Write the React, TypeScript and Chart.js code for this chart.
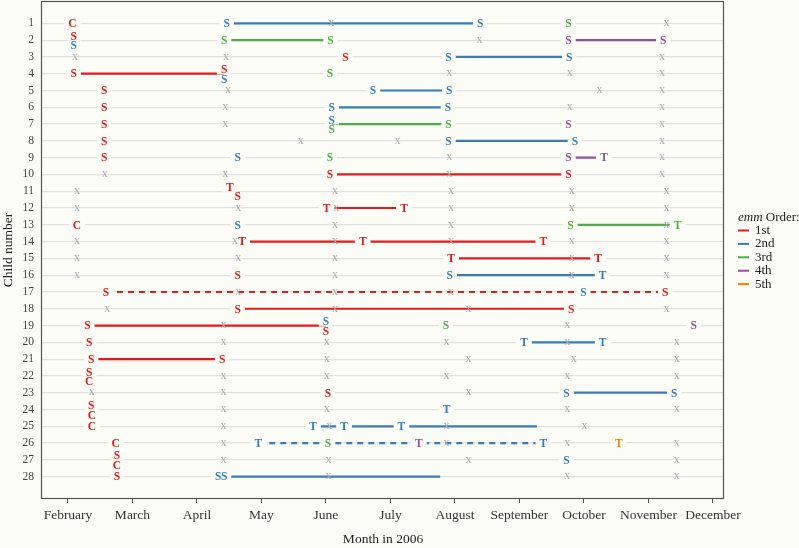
import React, { useEffect, useRef } from 'react';
import { Chart, registerables } from 'chart.js';

Chart.register(...registerables);

// ---------- data ----------
const CHILD_NUMBERS = [1, 2, 3, 4, 5, 6, 7, 8, 9, 10, 11, 12, 13, 14, 15, 16, 17, 18, 19, 20, 21, 22, 23, 24, 25, 26, 27, 28];
const MONTH_VALUES = [2, 3, 4, 5, 6, 7, 8, 9, 10, 11, 12];
const MONTH_NAMES = ['February', 'March', 'April', 'May', 'June', 'July', 'August', 'September', 'October', 'November', 'December'];
const ORDER_LABELS = ['1st', '2nd', '3rd', '4th', '5th'];
const ORDER_COLORS = ['#E41A1C', '#377EB8', '#4DAF4A', '#984EA3', '#FF7F00'];
const NEGATIVE_COLOR = '#ababab';
const BG = '#fdfdf7';

const U = -0.25; // stacked label above
const D = 0.32; // stacked label below

// [child, month, letter, emm order, vertical nudge (rows)]
const POSITIVE_SAMPLES: [number, number, string, number, number][] = [
  [1, 2.07, 'C', 1, 0], [1, 4.46, 'S', 2, 0], [1, 8.39, 'S', 2, 0], [1, 9.76, 'S', 3, 0],
  [2, 2.09, 'S', 1, U], [2, 2.09, 'S', 2, D], [2, 4.42, 'S', 3, 0], [2, 6.07, 'S', 3, 0], [2, 9.76, 'S', 4, 0], [2, 11.23, 'S', 4, 0],
  [3, 6.30, 'S', 1, 0], [3, 7.90, 'S', 2, 0], [3, 9.77, 'S', 2, 0],
  [4, 2.09, 'S', 1, 0], [4, 4.42, 'S', 1, U], [4, 4.42, 'S', 2, D], [4, 6.06, 'S', 3, 0],
  [5, 2.56, 'S', 1, 0], [5, 6.73, 'S', 2, 0], [5, 7.91, 'S', 2, 0],
  [6, 2.56, 'S', 1, 0], [6, 6.09, 'S', 2, 0], [6, 7.89, 'S', 2, 0],
  [7, 2.56, 'S', 1, 0], [7, 6.09, 'S', 2, U], [7, 6.09, 'S', 3, D], [7, 7.90, 'S', 3, 0], [7, 9.76, 'S', 4, 0],
  [8, 2.56, 'S', 1, 0], [8, 7.90, 'S', 2, 0], [8, 9.86, 'S', 2, 0],
  [9, 2.56, 'S', 1, 0], [9, 4.63, 'S', 2, 0], [9, 6.06, 'S', 3, 0], [9, 9.76, 'S', 4, 0], [9, 10.31, 'T', 4, 0],
  [10, 6.06, 'S', 1, 0], [10, 9.76, 'S', 1, 0],
  [11, 4.51, 'T', 1, U], [11, 4.63, 'S', 1, D],
  [12, 6.01, 'T', 1, 0], [12, 7.21, 'T', 1, 0],
  [13, 2.14, 'C', 1, 0], [13, 4.63, 'S', 2, 0], [13, 9.79, 'S', 3, 0], [13, 11.45, 'T', 3, 0],
  [14, 4.70, 'T', 1, 0], [14, 6.57, 'T', 1, 0], [14, 9.37, 'T', 1, 0],
  [15, 7.94, 'T', 1, 0], [15, 10.22, 'T', 1, 0],
  [16, 4.63, 'S', 1, 0], [16, 7.92, 'S', 2, 0], [16, 10.29, 'T', 2, 0],
  [17, 2.59, 'S', 1, 0], [17, 9.99, 'S', 2, 0], [17, 11.26, 'S', 1, 0],
  [18, 4.63, 'S', 1, 0], [18, 9.80, 'S', 1, 0],
  [19, 2.30, 'S', 1, 0], [19, 6.00, 'S', 2, U], [19, 6.00, 'S', 1, D], [19, 7.86, 'S', 3, 0], [19, 11.70, 'S', 4, 0],
  [20, 2.33, 'S', 1, 0], [20, 9.07, 'T', 2, 0], [20, 10.29, 'T', 2, 0],
  [21, 2.36, 'S', 1, 0], [21, 4.39, 'S', 1, 0],
  [22, 2.33, 'S', 1, U], [22, 2.33, 'C', 1, D],
  [23, 6.03, 'S', 1, 0], [23, 9.73, 'S', 2, 0], [23, 11.40, 'S', 2, 0],
  [24, 2.36, 'S', 1, U], [24, 2.37, 'C', 1, D], [24, 7.87, 'T', 2, 0],
  [25, 2.37, 'C', 1, 0], [25, 5.80, 'T', 2, 0], [25, 6.28, 'T', 2, 0], [25, 7.17, 'T', 2, 0],
  [26, 2.74, 'C', 1, 0], [26, 4.95, 'T', 2, 0], [26, 6.03, 'S', 3, 0], [26, 7.44, 'T', 4, 0], [26, 9.37, 'T', 2, 0], [26, 10.54, 'T', 5, 0],
  [27, 2.76, 'S', 1, U], [27, 2.76, 'C', 1, D], [27, 9.73, 'S', 2, 0],
  [28, 2.76, 'S', 1, 0], [28, 4.33, 'S', 2, 0], [28, 4.42, 'S', 2, 0],
];

// [child, month] negative visits
const NEGATIVE_SAMPLES: [number, number][] = [
  [1, 6.08], [1, 11.28],
  [2, 8.38],
  [3, 2.11], [3, 4.45], [3, 11.21],
  [4, 7.91], [4, 9.78], [4, 11.21],
  [5, 4.48], [5, 10.24], [5, 11.21],
  [6, 4.44], [6, 9.78], [6, 11.21],
  [7, 4.44], [7, 11.21],
  [8, 5.61], [8, 7.11], [8, 11.21],
  [9, 7.91], [9, 11.21],
  [10, 2.57], [10, 4.44], [10, 7.91], [10, 11.21],
  [11, 2.14], [11, 6.14], [11, 7.94], [11, 9.81], [11, 11.28],
  [12, 2.14], [12, 4.64], [12, 6.16], [12, 7.94], [12, 9.81], [12, 11.28],
  [13, 6.14], [13, 7.94], [13, 11.28],
  [14, 2.14], [14, 4.59], [14, 6.14], [14, 7.94], [14, 9.81], [14, 11.28],
  [15, 2.14], [15, 4.64], [15, 6.14], [15, 9.81], [15, 11.28],
  [16, 2.14], [16, 6.14], [16, 9.81], [16, 11.28],
  [17, 4.64], [17, 6.14], [17, 7.94],
  [18, 2.61], [18, 6.14], [18, 8.21], [18, 11.28],
  [19, 4.41], [19, 9.74],
  [20, 4.41], [20, 6.01], [20, 7.87], [20, 9.74], [20, 11.44],
  [21, 6.01], [21, 8.21], [21, 9.84], [21, 11.44],
  [22, 4.41], [22, 6.01], [22, 7.87], [22, 9.74], [22, 11.44],
  [23, 2.37], [23, 4.41], [23, 8.21],
  [24, 4.41], [24, 6.01], [24, 9.74], [24, 11.44],
  [25, 4.41], [25, 6.05], [25, 7.87], [25, 10.01],
  [26, 4.41], [26, 7.87], [26, 9.74], [26, 11.44],
  [27, 4.41], [27, 6.04], [27, 8.21], [27, 11.44],
  [28, 6.04], [28, 9.74], [28, 11.44],
];

// [child, start month, end month, emm order, dashed]
const CARRIAGE_PERIODS: [number, number, number, number, number][] = [
  [1, 4.46, 8.39, 2, 0],
  [2, 4.42, 6.07, 3, 0], [2, 9.76, 11.23, 4, 0],
  [3, 7.90, 9.77, 2, 0],
  [4, 2.09, 4.42, 1, 0],
  [5, 6.73, 7.91, 2, 0],
  [6, 6.09, 7.89, 2, 0],
  [7, 6.09, 7.90, 3, 0],
  [8, 7.90, 9.86, 2, 0],
  [9, 9.76, 10.31, 4, 0],
  [10, 6.06, 9.76, 1, 0],
  [12, 6.01, 7.21, 1, 0],
  [13, 9.79, 11.45, 3, 0],
  [14, 4.70, 9.37, 1, 0],
  [15, 7.94, 10.22, 1, 0],
  [16, 7.92, 10.29, 2, 0],
  [17, 2.59, 11.26, 1, 1],
  [18, 4.63, 9.80, 1, 0],
  [19, 2.30, 6.00, 1, 0],
  [20, 9.07, 10.29, 2, 0],
  [21, 2.36, 4.39, 1, 0],
  [23, 9.73, 11.40, 2, 0],
  [25, 5.80, 9.27, 2, 0],
  [26, 4.95, 9.37, 2, 1],
  [28, 4.42, 7.77, 2, 0],
];

const FONT = 'Liberation Serif';
const LETTER_SIZE = 11.5;
const NEG_SIZE = 12;

const markerPlugin = {
  id: 'textMarkers',
  afterDatasetsDraw(chart: any) {
    const ctx = chart.ctx as CanvasRenderingContext2D;
    const pos: any[] = [];
    const neg: any[] = [];
    chart.data.datasets.forEach((ds: any, i: number) => {
      if (!ds.markerKind) return;
      const meta = chart.getDatasetMeta(i);
      meta.data.forEach((el: any, j: number) => {
        const item = { x: el.x, y: el.y, text: ds.markerText[j], color: ds.markerColor[j] };
        if (ds.markerKind === 'pos') pos.push(item); else neg.push(item);
      });
    });
    ctx.save();
    ctx.textAlign = 'center';
    ctx.textBaseline = 'alphabetic';
    ctx.font = `bold ${LETTER_SIZE}px "${FONT}"`;
    pos.forEach((it) => {
      const w = ctx.measureText(it.text).width;
      ctx.fillStyle = BG;
      ctx.fillRect(it.x - w / 2 - 4, it.y - 4.5, w + 8, 9);
    });
    ctx.font = `${NEG_SIZE}px "${FONT}"`;
    neg.forEach((it) => {
      ctx.fillStyle = it.color;
      ctx.fillText(it.text, it.x, it.y + 0.23 * NEG_SIZE);
    });
    ctx.font = `bold ${LETTER_SIZE}px "${FONT}"`;
    pos.forEach((it) => {
      ctx.fillStyle = it.color;
      ctx.fillText(it.text, it.x, it.y + 0.33 * LETTER_SIZE);
    });
    ctx.restore();
  },
};

const framePlugin = {
  id: 'frameAndLegend',
  beforeDraw(chart: any) {
    const ctx = chart.ctx as CanvasRenderingContext2D;
    ctx.save();
    ctx.fillStyle = BG;
    ctx.fillRect(0, 0, chart.width, chart.height);
    ctx.restore();
  },
  afterDraw(chart: any) {
    const ctx = chart.ctx as CanvasRenderingContext2D;
    const a = chart.chartArea;
    ctx.save();
    ctx.strokeStyle = '#555555';
    ctx.lineWidth = 1.2;
    ctx.strokeRect(Math.round(a.left) - 0.5, Math.round(a.top) + 0.5, Math.round(a.right) - Math.round(a.left), Math.round(a.bottom) - Math.round(a.top) - 1);

    // legend
    const lx = a.right + 14;
    const ly = 218;
    ctx.textBaseline = 'middle';
    ctx.textAlign = 'left';
    ctx.fillStyle = '#222';
    ctx.font = `italic 13px "${FONT}"`;
    ctx.fillText('emm', lx, ly);
    const w = ctx.measureText('emm').width;
    ctx.font = `13px "${FONT}"`;
    ctx.fillText(' Order:', lx + w, ly);
    ORDER_LABELS.forEach((lab, i) => {
      const y = 230.5 + i * 13.4;
      ctx.strokeStyle = ORDER_COLORS[i];
      ctx.lineWidth = 2;
      ctx.beginPath();
      ctx.moveTo(lx, y);
      ctx.lineTo(lx + 11, y);
      ctx.stroke();
      ctx.fillStyle = '#222';
      ctx.fillText(lab, lx + 17, y);
    });
    ctx.restore();
  },
};

export default function App() {
  const ref = useRef<HTMLCanvasElement>(null);
  useEffect(() => {
    if (!ref.current) return;
    const datasets: any[] = [];
    CARRIAGE_PERIODS.forEach(([child, s, e, order, dashed]) => {
      datasets.push({
        type: 'line',
        data: [{ x: s, y: child }, { x: e, y: child }],
        borderColor: ORDER_COLORS[order - 1],
        borderWidth: 2.2,
        borderDash: dashed ? [6, 5] : [],
        pointRadius: 0,
        showLine: true,
        fill: false,
        tension: 0,
      });
    });
    datasets.push({
      type: 'scatter',
      markerKind: 'neg',
      data: NEGATIVE_SAMPLES.map(([c, m]) => ({ x: m, y: c })),
      markerText: NEGATIVE_SAMPLES.map(() => 'x'),
      markerColor: NEGATIVE_SAMPLES.map(() => NEGATIVE_COLOR),
      pointRadius: 0,
    });
    datasets.push({
      type: 'scatter',
      markerKind: 'pos',
      data: POSITIVE_SAMPLES.map(([c, m, , , n]) => ({ x: m, y: c + n })),
      markerText: POSITIVE_SAMPLES.map((p) => p[2]),
      markerColor: POSITIVE_SAMPLES.map((p) => ORDER_COLORS[p[3] - 1]),
      pointRadius: 0,
    });

    const chart = new Chart(ref.current, {
      type: 'scatter',
      data: { datasets },
      plugins: [framePlugin, markerPlugin],
      options: {
        animation: false,
        responsive: false,
        events: [],
        layout: { padding: { top: 1, right: 75, left: 0, bottom: 0 } },
        plugins: { legend: { display: false }, tooltip: { enabled: false } },
        scales: {
          x: {
            type: 'linear',
            min: 1.597,
            max: 12.171,
            afterBuildTicks: (s: any) => { s.ticks = MONTH_VALUES.map((v) => ({ value: v })); },
            afterFit: (s: any) => { s.height = 49; s.paddingLeft = 0; s.paddingRight = 0; },
            ticks: {
              autoSkip: false,
              maxRotation: 0,
              padding: 4,
              color: '#333',
              font: { family: FONT, size: 13.5 },
              callback: (v: any) => MONTH_NAMES[MONTH_VALUES.indexOf(Number(v))] ?? '',
            },
            grid: { drawOnChartArea: false, drawTicks: true, tickLength: 4, color: '#555', lineWidth: 1 },
            border: { display: false },
            title: { display: true, text: 'Month in 2006', color: '#222', font: { family: FONT, size: 13.5 }, padding: 0 },
          },
          y: {
            type: 'linear',
            reverse: true,
            min: -0.33,
            max: 29.33,
            afterBuildTicks: (s: any) => { s.ticks = CHILD_NUMBERS.map((v) => ({ value: v })); },
            afterFit: (s: any) => { s.width = 42; s.paddingTop = 0; s.paddingBottom = 0; },
            ticks: {
              autoSkip: false,
              padding: 8,
              color: '#444',
              font: { family: FONT, size: 11.5 },
              callback: (v: any) => String(v),
            },
            grid: { drawOnChartArea: true, drawTicks: false, color: '#e1e1e1', lineWidth: 1.2 },
            border: { display: false },
            title: { display: true, text: 'Child number', color: '#222', font: { family: FONT, size: 13.5 }, padding: 0 },
          },
        },
      } as any,
    });
    return () => chart.destroy();
  }, []);

  return (
    <div style={{ position: 'fixed', left: 0, top: 0, width: 799, height: 548, background: BG }}>
      <canvas ref={ref} width={799} height={548} style={{ display: 'block', width: 799, height: 548 }} />
    </div>
  );
}
